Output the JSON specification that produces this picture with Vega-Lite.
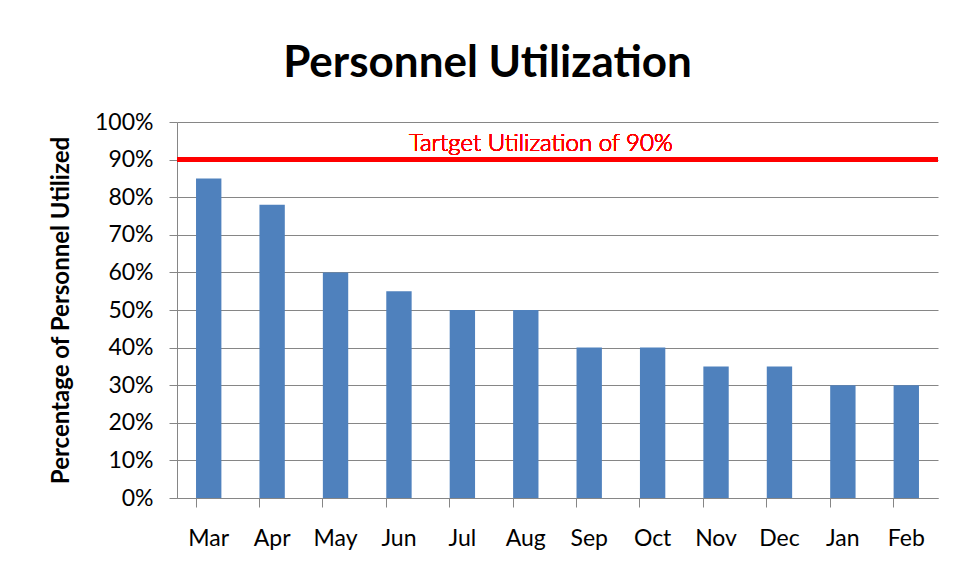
{
  "$schema": "https://vega.github.io/schema/vega-lite/v6.json",
  "width": 761,
  "height": 376,
  "autosize": {"type": "none"},
  "padding": {"left": 177, "top": 122, "right": 20, "bottom": 83},
  "background": "white",
  "title": {
    "text": "Personnel Utilization",
    "font": "Lato",
    "fontSize": 44,
    "fontWeight": "bold",
    "color": "black",
    "anchor": "middle",
    "dx": -70,
    "offset": 25
  },
  "config": {
    "view": {"stroke": null},
    "font": "Lato",
    "axisY": {
      "titleFont": "Lato",
      "titleFontSize": 24,
      "titleFontWeight": "bold",
      "titleColor": "black",
      "titlePadding": 21,
      "format": ".0%",
      "labelOverlap": false,
      "labelFont": "Lato",
      "labelFontSize": 23,
      "labelColor": "black",
      "labelPadding": 16,
      "tickColor": "#868686",
      "tickSize": 8,
      "domainColor": "#868686",
      "gridColor": "#868686",
      "grid": true
    }
  },
  "data": {
    "values": [
      {"month": "Mar", "util": 0.85},
      {"month": "Apr", "util": 0.78},
      {"month": "May", "util": 0.60},
      {"month": "Jun", "util": 0.55},
      {"month": "Jul", "util": 0.50},
      {"month": "Aug", "util": 0.50},
      {"month": "Sep", "util": 0.40},
      {"month": "Oct", "util": 0.40},
      {"month": "Nov", "util": 0.35},
      {"month": "Dec", "util": 0.35},
      {"month": "Jan", "util": 0.30},
      {"month": "Feb", "util": 0.30}
    ]
  },
  "layer": [
    {
      "mark": {"type": "bar", "color": "#4f81bd"},
      "encoding": {
        "x": {
          "field": "month",
          "type": "nominal",
          "sort": null,
          "scale": {"paddingInner": 0.6, "paddingOuter": 0.3},
          "axis": {
            "title": null,
            "bandPosition": 0,
            "labelAngle": 0,
            "labelFont": "Lato",
            "labelFontSize": 23,
            "labelColor": "black",
            "labelPadding": 20,
            "tickColor": "#868686",
            "tickSize": 9,
            "domainColor": "#868686",
            "grid": false
          }
        },
        "y": {
          "field": "util",
          "type": "quantitative",
          "scale": {"domain": [0, 1]},
          "axis": {
            "title": "Percentage of Personnel Utilized",
            "format": ".0%",
            "tickCount": 20,
            "values": [0, 0.1, 0.2, 0.3, 0.4, 0.5, 0.6, 0.7, 0.8, 0.9, 1.0]
          }
        }
      }
    },
    {
      "mark": {"type": "rule", "color": "#ff0000", "strokeWidth": 4},
      "encoding": {"y": {"datum": 0.9, "type": "quantitative"}}
    },
    {
      "mark": {"type": "text", "text": "Tartget Utilization of 90%", "color": "#ff0000", "font": "Lato", "fontSize": 24, "fontWeight": 300, "baseline": "bottom", "dy": -4, "dx": 15},
      "encoding": {"x": {"datum": "Aug"}, "y": {"datum": 0.9, "type": "quantitative"}}
    }
  ]
}
